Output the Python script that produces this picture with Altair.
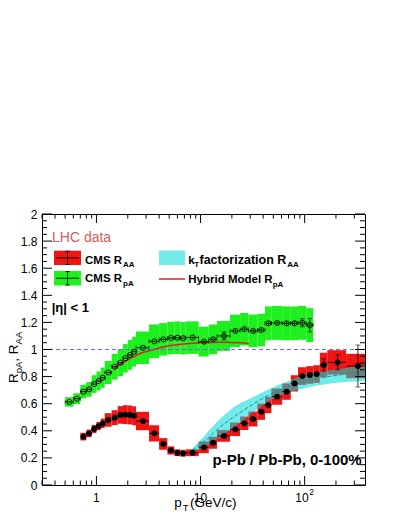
import altair as alt
import pandas as pd

FONT = "Liberation Sans"

# ---------------- data ----------------
# CMS R_pA (p-Pb), pT bins
rpa_lo = [0.5, 0.6, 0.7, 0.8, 0.9, 1.0, 1.1, 1.2, 1.4, 1.6, 1.8, 2.0, 2.2, 2.4, 3.2, 4.0, 4.8, 5.6, 6.4, 7.2,
          9.6, 12.0, 14.4, 19.2, 24.0, 28.8, 35.2, 41.6, 48.0, 60.8, 73.6, 86.4, 103.6]
rpa_hi = [0.6, 0.7, 0.8, 0.9, 1.0, 1.1, 1.2, 1.4, 1.6, 1.8, 2.0, 2.2, 2.4, 3.2, 4.0, 4.8, 5.6, 6.4, 7.2, 9.6,
          12.0, 14.4, 19.2, 24.0, 28.8, 35.2, 41.6, 48.0, 60.8, 73.6, 86.4, 103.6, 120.8]
rpa_pt = [0.55, 0.65, 0.75, 0.85, 0.95, 1.05, 1.15, 1.3, 1.5, 1.7, 1.9, 2.1, 2.3, 2.8, 3.6, 4.4, 5.2, 6.0, 6.8, 8.4,
          10.8, 13.2, 16.8, 21.6, 26.4, 32.0, 38.4, 44.8, 54.4, 67.2, 80.0, 95.0, 112.2]
rpa_val = [0.613, 0.637, 0.689, 0.706, 0.745, 0.768, 0.792, 0.83, 0.873, 0.903, 0.935, 0.96, 0.984, 1.013, 1.06,
           1.075, 1.085, 1.087, 1.083, 1.088, 1.058, 1.075, 1.10, 1.137, 1.15, 1.137, 1.144, 1.193, 1.196, 1.193,
           1.193, 1.197, 1.18]
rpa_sys = [0.035, 0.04, 0.05, 0.055, 0.065, 0.07, 0.075, 0.085, 0.095, 0.1, 0.105, 0.11, 0.11, 0.12, 0.125,
           0.12, 0.12, 0.12, 0.12, 0.12, 0.11, 0.11, 0.11, 0.12, 0.12, 0.12, 0.12, 0.125, 0.125, 0.125, 0.125,
           0.125, 0.125]
rpa_stat = [0.005, 0.005, 0.005, 0.005, 0.005, 0.005, 0.005, 0.005, 0.005, 0.005, 0.005, 0.005, 0.005, 0.005,
            0.005, 0.005, 0.005, 0.005, 0.005, 0.008, 0.01, 0.012, 0.03, 0.012, 0.012, 0.012, 0.012, 0.012, 0.012,
            0.015, 0.02, 0.03, 0.05]

# CMS R_AA (Pb-Pb), pT bins
raa_lo = [0.7, 0.8, 0.9, 1.0, 1.1, 1.2, 1.4, 1.6, 1.8, 2.0, 2.2, 2.4, 3.2, 4.0, 4.8, 5.6, 6.4, 7.2, 9.6, 12.0,
          14.4, 19.2, 24.0, 28.8, 35.2, 41.6, 48.0, 60.8, 73.6, 86.4, 103.6, 120.8, 140.0, 165.0, 250.0]
raa_hi = [0.8, 0.9, 1.0, 1.1, 1.2, 1.4, 1.6, 1.8, 2.0, 2.2, 2.4, 3.2, 4.0, 4.8, 5.6, 6.4, 7.2, 9.6, 12.0, 14.4,
          19.2, 24.0, 28.8, 35.2, 41.6, 48.0, 60.8, 73.6, 86.4, 103.6, 120.8, 140.0, 165.0, 250.0, 400.0]
raa_pt = [0.75, 0.85, 0.95, 1.05, 1.15, 1.3, 1.5, 1.7, 1.9, 2.1, 2.3, 2.8, 3.6, 4.4, 5.2, 6.0, 6.8, 8.4, 10.8,
          13.2, 16.8, 21.6, 26.4, 32.0, 38.4, 44.8, 54.4, 67.2, 80.0, 95.0, 112.2, 130.4, 152.5, 207.5, 325.0]
raa_val = [0.357, 0.381, 0.413, 0.435, 0.455, 0.48, 0.497, 0.517, 0.519, 0.517, 0.511, 0.472, 0.381, 0.303,
           0.255, 0.238, 0.234, 0.238, 0.278, 0.312, 0.362, 0.411, 0.455, 0.487, 0.541, 0.59, 0.652, 0.689,
           0.75, 0.804, 0.812, 0.819, 0.886, 0.905, 0.878]
raa_sys = [0.028, 0.028, 0.03, 0.03, 0.035, 0.05, 0.055, 0.065, 0.07, 0.07, 0.07, 0.068, 0.06, 0.043, 0.03,
           0.025, 0.025, 0.025, 0.043, 0.045, 0.043, 0.05, 0.05, 0.055, 0.06, 0.06, 0.06, 0.06, 0.06, 0.065,
           0.065, 0.065, 0.09, 0.09, 0.09]
raa_stat = [0.004, 0.004, 0.004, 0.004, 0.004, 0.004, 0.004, 0.004, 0.004, 0.004, 0.004, 0.004, 0.004, 0.004,
            0.004, 0.004, 0.004, 0.004, 0.004, 0.004, 0.005, 0.005, 0.005, 0.006, 0.006, 0.007, 0.008, 0.008,
            0.009, 0.01, 0.012, 0.02, 0.045, 0.055, 0.155]

# kT factorization R_AA band
kt_pt = [8.35, 10.8, 15.6, 22.5, 32.5, 47.0, 68.0, 98.5, 142.0, 205.0, 297.0, 380.0]
kt_lo = [0.246, 0.283, 0.357, 0.443, 0.541, 0.627, 0.681, 0.713, 0.738, 0.755, 0.763, 0.77]
kt_hi = [0.27, 0.36, 0.492, 0.59, 0.652, 0.713, 0.763, 0.812, 0.836, 0.854, 0.873, 0.886]
kt_mid = [0.258, 0.32, 0.43, 0.52, 0.6, 0.67, 0.72, 0.765, 0.79, 0.81, 0.825, 0.83]

# Hybrid model R_pA
hyb_pt = [1.47, 1.98, 2.66, 3.57, 4.97, 6.45, 10.0, 15.6, 24.2, 29.1]
hyb_val = [0.861, 0.922, 0.972, 1.0, 1.028, 1.038, 1.05, 1.053, 1.05, 1.043]

# axis ticks
x_major = [1, 10, 100]
x_minor = [0.3, 0.4, 0.5, 0.6, 0.7, 0.8, 0.9, 2, 3, 4, 5, 6, 7, 8, 9, 20, 30, 40, 50, 60, 70, 80, 90, 200, 300]
y_major = [0, 0.2, 0.4, 0.6, 0.8, 1.0, 1.2, 1.4, 1.6, 1.8, 2.0]
y_minor = [0.05, 0.1, 0.15, 0.25, 0.3, 0.35, 0.45, 0.5, 0.55, 0.65, 0.7, 0.75, 0.85, 0.9, 0.95, 1.05, 1.1,
           1.15, 1.25, 1.3, 1.35, 1.45, 1.5, 1.55, 1.65, 1.7, 1.75, 1.85, 1.9, 1.95]

# ---------------- chart ----------------
W, H = 323, 271
GREEN = "#1ef01e"
RED = "#f01414"
CYAN = "#00d8d8"
BLUE = "#6a6aff"

xs = alt.Scale(type="log", domain=[0.3, 380], nice=False)
ys = alt.Scale(domain=[0, 2], nice=False, zero=False)
yaxis = alt.Axis(values=y_major, format="~g", ticks=False, domain=False, grid=False, labelPadding=5,
                 labelFontSize=12, labelFont=FONT, labelColor="black", title=None)


def X(f):
    return alt.X(f, type="quantitative", scale=xs, axis=None)


def Y(f):
    return alt.Y(f, type="quantitative", scale=ys, axis=yaxis)


rpa = pd.DataFrame({"pt": rpa_pt, "lo": rpa_lo, "hi": rpa_hi, "val": rpa_val, "sys": rpa_sys, "stat": rpa_stat})
raa = pd.DataFrame({"pt": raa_pt, "lo": raa_lo, "hi": raa_hi, "val": raa_val, "sys": raa_sys, "stat": raa_stat})
kt = pd.DataFrame({"pt": kt_pt, "lo": kt_lo, "hi": kt_hi, "mid": kt_mid})
hyb = pd.DataFrame({"pt": hyb_pt, "val": hyb_val})
one = alt.Chart(pd.DataFrame({"k": [0]}))
unity = alt.Chart(pd.DataFrame({"u": [1.0]}))


def boxes(df, color):
    return alt.Chart(df).transform_calculate(
        ylo="datum.val - datum.sys", yhi="datum.val + datum.sys"
    ).mark_rect(color=color, clip=True).encode(x=X("lo"), x2="hi", y=Y("ylo"), y2="yhi")


def hbars(df):
    return alt.Chart(df).mark_rule(color="black", strokeWidth=0.8, clip=True).encode(
        x=X("lo"), x2="hi", y=Y("val"))


def vbars(df):
    return alt.Chart(df).transform_calculate(
        ylo="datum.val - datum.stat", yhi="datum.val + datum.stat"
    ).mark_rule(color="black", strokeWidth=0.8).encode(x=X("pt"), y=Y("ylo"), y2="yhi")


def vcaps(df):
    base = alt.Chart(df).transform_filter("datum.stat > 0.02").transform_calculate(
        ylo="datum.val - datum.stat", yhi="datum.val + datum.stat")
    m = dict(color="black", orient="horizontal", size=5, thickness=0.8)
    return [base.mark_tick(**m).encode(x=X("pt"), y=Y("ylo")),
            base.mark_tick(**m).encode(x=X("pt"), y=Y("yhi"))]


layers = []
layers.append(boxes(rpa, GREEN))
layers.append(boxes(raa, RED))
layers.append(alt.Chart(kt).mark_area(color=CYAN, opacity=0.55, interpolate="monotone", clip=True).encode(
    x=X("pt"), y=Y("lo"), y2="hi"))
layers.append(alt.Chart(kt).mark_line(color="#109a9a", strokeWidth=1, strokeDash=[4, 2],
                                      interpolate="monotone", clip=True).encode(x=X("pt"), y=Y("mid")))
layers.append(alt.Chart(hyb).mark_line(color="#e02020", strokeWidth=1.5, interpolate="monotone").encode(
    x=X("pt"), y=Y("val")))
layers.append(unity.mark_rule(color=BLUE, stroke=BLUE, strokeWidth=1, strokeDash=[4, 3], opacity=1).encode(
    x=alt.value(0), x2=alt.value(W), y=Y("u")))

for df in (rpa, raa):
    layers.append(hbars(df))
    layers.append(vbars(df))
    layers.extend(vcaps(df))
# end caps on the R_pA horizontal bars
capm = dict(color="black", orient="vertical", size=4, thickness=0.8)
layers.append(alt.Chart(rpa).mark_tick(**capm).encode(x=X("lo"), y=Y("val")))
layers.append(alt.Chart(rpa).mark_tick(**capm).encode(x=X("hi"), y=Y("val")))

layers.append(alt.Chart(rpa).mark_point(shape="circle", filled=False, color="black", size=26, strokeWidth=0.9,
                                        opacity=1).encode(x=X("pt"), y=Y("val")))
layers.append(alt.Chart(raa).mark_point(shape="circle", filled=True, color="black", size=34, opacity=1,
                                        clip=True).encode(x=X("pt"), y=Y("val")))

# inward ticks on all four sides
for vals, ln in ((x_major, 9), (x_minor, 4.5)):
    c = alt.Chart(pd.DataFrame({"t": vals})).mark_rule(color="black", strokeWidth=1)
    layers.append(c.encode(x=X("t"), y=alt.value(H), y2=alt.value(H - ln)))
    layers.append(c.encode(x=X("t"), y=alt.value(0), y2=alt.value(ln)))
for vals, ln in ((y_major, 10), (y_minor, 5)):
    c = alt.Chart(pd.DataFrame({"t": vals})).mark_rule(color="black", strokeWidth=1)
    layers.append(c.encode(y=Y("t"), x=alt.value(0), x2=alt.value(ln)))
    layers.append(c.encode(y=Y("t"), x=alt.value(W), x2=alt.value(W - ln)))

# x tick labels
xl = alt.Chart(pd.DataFrame({"v": [1, 10], "s": ["1", "10"]}))
layers.append(xl.mark_text(font=FONT, fontSize=12, align="center", baseline="alphabetic", color="black").encode(
    x=X("v"), y=alt.value(H + 17), text="s:N"))
xl2 = alt.Chart(pd.DataFrame({"v": [100]}))
layers.append(xl2.mark_text(font=FONT, fontSize=12, align="right", baseline="alphabetic", dx=4, text="10",
                            color="black").encode(x=X("v"), y=alt.value(H + 17)))
layers.append(xl2.mark_text(font=FONT, fontSize=8.5, align="left", baseline="alphabetic", dx=4.5, text="2",
                            color="black").encode(x=X("v"), y=alt.value(H + 10)))


def txt(s, x, y, size, bold=False, color="black", align="left", angle=0):
    kw = dict(font=FONT, fontSize=size, align=align, baseline="alphabetic", text=s, color=color)
    if bold:
        kw["fontWeight"] = "bold"
    if angle:
        kw["angle"] = angle
    return one.mark_text(**kw).encode(x=alt.value(x), y=alt.value(y))


# axis titles
layers += [txt("p", 132.3, 292.7, 13.5), txt("T", 140.7, 297, 9.5), txt("(GeV/c)", 148, 292.7, 13.5)]
layers += [txt("R", -24, 169, 13.5, angle=270), txt("pA", -20.5, 159.3, 9.5, angle=270),
           txt(", R", -24, 147.7, 13.5, angle=270), txt("AA", -20.5, 130.4, 9.5, angle=270)]

# legend
layers.append(txt("LHC data", 10, 28.3, 14, color="#d95b5b"))
for (y0, y1, col) in ((36.7, 51, RED), (57, 71.5, GREEN)):
    yc = (y0 + y1) / 2
    layers.append(one.mark_rect(color=col).encode(x=alt.value(12), x2=alt.value(39), y=alt.value(y0),
                                                  y2=alt.value(y1)))
    r = one.mark_rule(color="black", strokeWidth=0.9)
    layers.append(r.encode(x=alt.value(14), x2=alt.value(37), y=alt.value(yc)))
    layers.append(r.encode(x=alt.value(25.5), y=alt.value(y0 + 0.5), y2=alt.value(y1 - 0.5)))
    layers.append(r.encode(x=alt.value(23.5), x2=alt.value(27.5), y=alt.value(y0 + 0.5)))
    layers.append(r.encode(x=alt.value(23.5), x2=alt.value(27.5), y=alt.value(y1 - 0.5)))
layers.append(one.mark_rect(color=CYAN, opacity=0.55).encode(x=alt.value(117), x2=alt.value(143),
                                                            y=alt.value(36.5), y2=alt.value(51)))
layers.append(one.mark_rule(color="#e02020", strokeWidth=1.5).encode(x=alt.value(117), x2=alt.value(143),
                                                                     y=alt.value(65)))
layers += [txt("CMS R", 43, 50.3, 11.5, bold=True), txt("AA", 81, 53.3, 8, bold=True),
           txt("CMS R", 43, 68.3, 11.5, bold=True), txt("pA", 81, 71.7, 8, bold=True),
           txt("k", 146.3, 50, 11.5, bold=True), txt("T", 152.3, 53, 8, bold=True),
           txt("factorization R", 157.5, 50, 12.5, bold=True), txt("AA", 245.3, 53, 8, bold=True),
           txt("Hybrid Model R", 146.3, 69.3, 11.5, bold=True), txt("pA", 230.7, 73, 8, bold=True),
           txt("|η| < 1", 9.7, 97.7, 13, bold=True),
           txt("p-Pb / Pb-Pb, 0-100%", 319.7, 251, 15, bold=True, align="right")]

chart = alt.layer(*layers).properties(
    width=W, height=H,
    padding={"left": 34, "top": 206, "right": 26, "bottom": 31},
    autosize=alt.AutoSizeParams(type="none"),
    background="white",
).configure_view(stroke="black", strokeWidth=1)

chart.save("out.html", embed_options={"renderer": "svg", "actions": False})
